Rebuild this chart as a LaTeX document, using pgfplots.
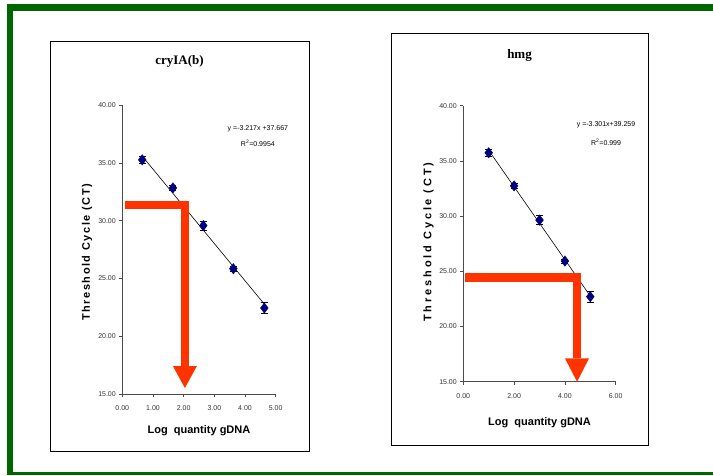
\documentclass[border=0pt]{standalone}
\usepackage{fontspec}
\setmainfont{Liberation Sans}
\newfontfamily\titlefont{Liberation Serif}
\usepackage{pgfplots}
\pgfplotsset{compat=1.18}
\usepackage{pgfplotstable}
\definecolor{framegreen}{HTML}{006600}
\definecolor{arrowred}{HTML}{FF3300}
\definecolor{navy}{HTML}{00007F}

\pgfplotstableread{
x y err
0.65 35.26 0.30
1.65 32.83 0.20
2.64 29.57 0.38
3.62 25.84 0.20
4.63 22.44 0.50
}\cryData
\pgfplotstableread{
x y err
1 35.74 0.30
2 32.74 0.20
3 29.64 0.42
4 25.93 0.20
5 22.70 0.51
}\hmgData

\pgfplotsset{
  panel/.style={
    scale only axis, anchor=south west, clip=false,
    axis x line*=bottom, axis y line*=left,
    xtick pos=left, ytick pos=left,
    axis line style={black!70, line width=0.8pt},
    tick align=outside, major tick length=3pt,
    tick style={black!70, line width=0.6pt},
    ymin=15, ymax=40, ytick={15,20,...,40},
    /pgf/number format/assume math mode=true,
    tick label style={font=\fontsize{7}{8}\selectfont, text=black!80},
    xticklabel style={/pgf/number format/fixed,/pgf/number format/fixed zerofill,/pgf/number format/precision=2, yshift=-5pt},
    yticklabel style={/pgf/number format/fixed,/pgf/number format/fixed zerofill,/pgf/number format/precision=2},
    xlabel={Log\ \ quantity gDNA},
    xlabel style={font=\bfseries\fontsize{11}{12}\selectfont, anchor=center},
    title style={font=\titlefont\bfseries\fontsize{13}{14}\selectfont, anchor=center},
  },
  dots/.style={only marks, mark=diamond*,
    mark options={fill=navy, draw=navy, mark size=5.2pt},
    error bars/.cd, y dir=both, y explicit,
    error bar style={black, line width=0.6pt},
    error mark options={rotate=90, black, mark size=3.5pt, line width=0.6pt}},
}

\begin{document}
\begin{tikzpicture}
\path[use as bounding box] (0,0) rectangle (713pt,-475pt);
% green frame
\fill[framegreen] (6.7pt,-4pt) rectangle (713pt,-11pt);
\fill[framegreen] (6.7pt,-4pt) rectangle (13.3pt,-475pt);
\fill[framegreen] (6.7pt,-471.6pt) rectangle (713pt,-475pt);
% panel boxes
\draw[black, line width=1pt] (50pt,-41pt) rectangle (309pt,-451pt);
\draw[black, line width=1pt] (391pt,-33pt) rectangle (648pt,-445pt);

\begin{axis}[panel,
  at={(122.3pt,-394pt)}, width=153.4pt, height=289pt,
  xmin=0, xmax=5, xtick={0,1,...,5},
  title={cryIA(b)},
  title style={at={(axis description cs:0.373,1.131)}},
  xlabel style={at={(axis description cs:0.5,-0.127)}},
  ylabel={\addfontfeature{LetterSpace=14}Threshold Cycle (CT)},
  ylabel style={font=\bfseries\fontsize{11}{12}\selectfont, anchor=center, at={(axis description cs:-0.230,0.49)}},
]
\addplot[black, line width=0.6pt] coordinates {(0.65,35.576) (4.63,22.772)};
\addplot[dots] table[x=x, y=y, y error=err] {\cryData};
\fill[arrowred] (axis cs:0.1,31.03) rectangle (axis cs:2.17,31.72);
\fill[arrowred] (axis cs:1.92,31.4) rectangle (axis cs:2.18,17.41);
\fill[arrowred] (axis cs:1.65,17.41) -- (axis cs:2.43,17.41) -- (axis cs:2.04,15.52) -- cycle;
\node[font=\fontsize{7}{8}\selectfont] at (axis cs:4.42,37.98) {y =-3.217x +37.667};
\node[font=\fontsize{7}{8}\selectfont] at (axis cs:4.42,36.71) {R\textsuperscript{2}=0.9954};
\end{axis}

\begin{axis}[panel,
  at={(463.3pt,-381.7pt)}, width=152.4pt, height=276pt,
  xmin=0, xmax=6, xtick={0,2,4,6},
  title={hmg},
  title style={at={(axis description cs:0.369,1.159)}},
  xlabel style={at={(axis description cs:0.5,-0.1486)}},
  ylabel={\addfontfeature{LetterSpace=26}Threshold Cycle (CT)},
  ylabel style={font=\bfseries\fontsize{11}{12}\selectfont, anchor=center, at={(axis description cs:-0.228,0.506)}},
]
\addplot[black, line width=0.6pt] coordinates {(1,35.958) (5,22.754)};
\addplot[dots] table[x=x, y=y, y error=err] {\hmgData};
\fill[arrowred] (axis cs:0.05,24.06) rectangle (axis cs:4.62,24.82);
\fill[arrowred] (axis cs:4.31,24.4) rectangle (axis cs:4.62,17.12);
\fill[arrowred] (axis cs:4.0,17.12) -- (axis cs:4.95,17.12) -- (axis cs:4.48,15.0) -- cycle;
\node[font=\fontsize{7}{8}\selectfont] at (axis cs:5.62,38.3) {y =-3.301x+39.259};
\node[font=\fontsize{7}{8}\selectfont] at (axis cs:5.62,36.69) {R\textsuperscript{2}=0.999};
\end{axis}
\end{tikzpicture}
\end{document}
